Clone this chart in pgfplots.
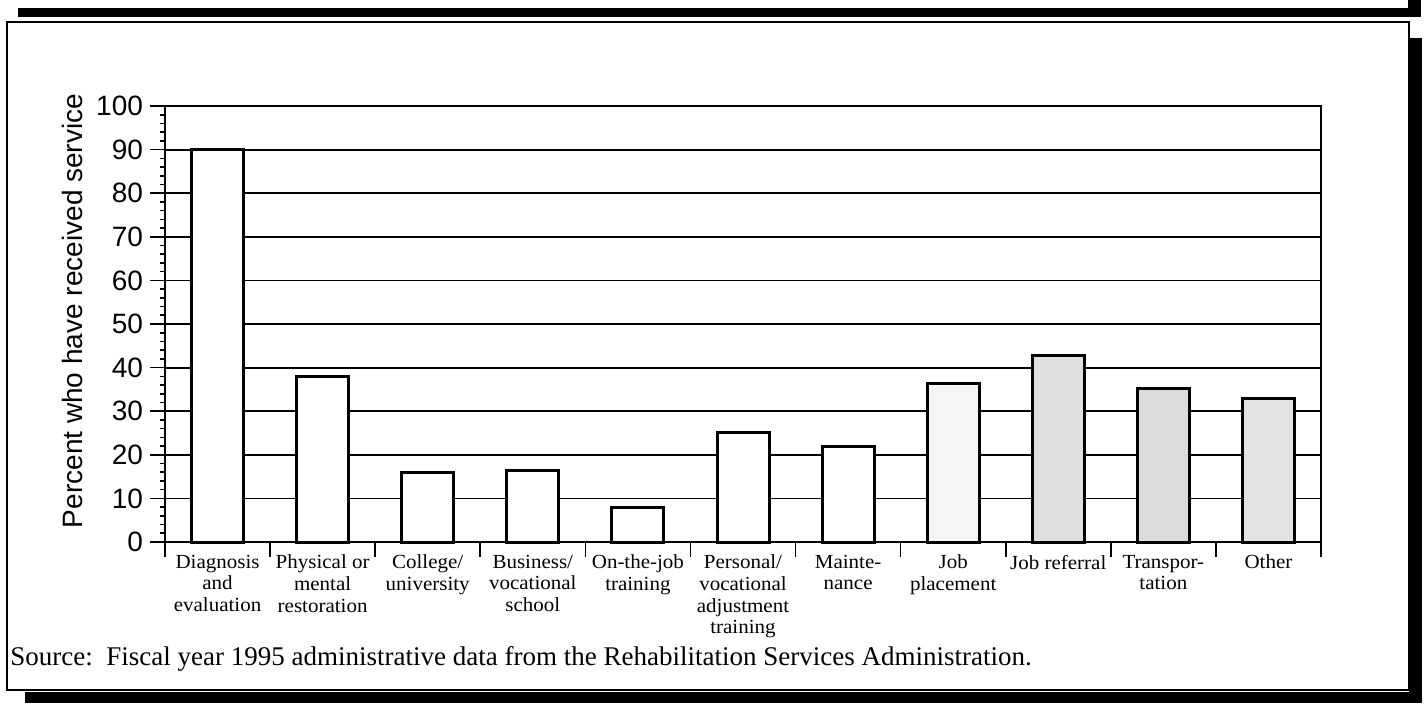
\documentclass[border=0pt]{standalone}
\usepackage{fontspec}
\setmainfont{Liberation Serif}
\setsansfont{Liberation Sans}
\newfontfamily\catfont[FakeStretch=1.05]{Liberation Serif}
\newfontfamily\srcfont{Liberation Serif}
\usepackage{pgfplots}
\pgfplotsset{compat=1.18}

\begin{document}
\begin{tikzpicture}[x=1pt,y=1pt]
\path[use as bounding box] (0,0) rectangle (713,351.5);
% frames
\draw[line width=1pt] (3.5,6.5) rectangle (704.5,340.5);
\fill (704.5,0) rectangle (711,332.5);
\fill (12.5,0) rectangle (711,5.5);
\fill (9,343) rectangle (710.5,347.5);
\fill (704,343) rectangle (710.5,351.5);
\begin{axis}[
  at={(82.5pt,80.5pt)}, anchor=south west,
  scale only axis, width=578pt, height=218pt,
  xmin=-0.5, xmax=10.5, ymin=0, ymax=100,
  xtick={-0.5,0.5,...,10.5},
  x tick label as interval,
  xticklabels={{Diagnosis\\and\\evaluation},{Physical or\\mental\\restoration},{College/\\university},{Business/\\vocational\\school},{On-the-job\\training},{Personal/\\vocational\\adjustment\\training},{Mainte-\\nance},{Job\\placement},{Job referral},{Transpor-\\tation},{Other}},
  ytick={0,10,...,100},
  minor y tick num=4,
  ymajorgrids,
  major grid style={line width=0.9pt, black},
  tick align=outside,
  tick pos=left,
  major tick length=7.5pt,
  minor tick length=2.5pt,
  every tick/.style={black, line width=0.8pt},
  axis line style={line width=1pt},
  yticklabel style={font=\sffamily\fontsize{14}{14}\selectfont},
  /pgf/number format/assume math mode=true,
  xticklabel style={font=\catfont\fontsize{10}{10.8}\selectfont, align=center, yshift=4.5pt, anchor=north},
  ylabel={Percent who have received service},
  every axis y label/.style={at={(axis description cs:0,0.53)}, xshift=-46.5pt, rotate=90, anchor=center, font=\sffamily\fontsize{14}{14}\selectfont},
  clip=false,
]
\addplot[ybar, bar width=26pt, bar shift=0pt, fill=white, draw=black, line width=1.5pt]
  coordinates {(0,90) (1,38) (2,16) (3,16.5) (4,8) (5,25.2) (6,22)};
\addplot[ybar, bar width=26pt, bar shift=0pt, fill=gray!8, draw=black, line width=1.5pt]
  coordinates {(7,36.3)};
\addplot[ybar, bar width=26pt, bar shift=0pt, fill=gray!24, draw=black, line width=1.5pt]
  coordinates {(8,42.8)};
\addplot[ybar, bar width=26pt, bar shift=0pt, fill=gray!28, draw=black, line width=1.5pt]
  coordinates {(9,35.3)};
\addplot[ybar, bar width=26pt, bar shift=0pt, fill=gray!22, draw=black, line width=1.5pt]
  coordinates {(10,33)};
\end{axis}
\node[anchor=base west, font=\srcfont\fontsize{13.5}{13.5}\selectfont, inner sep=0pt] at (5,19)
  {Source:\ \ Fiscal year 1995 administrative data from the Rehabilitation Services Administration.};
\end{tikzpicture}
\end{document}
